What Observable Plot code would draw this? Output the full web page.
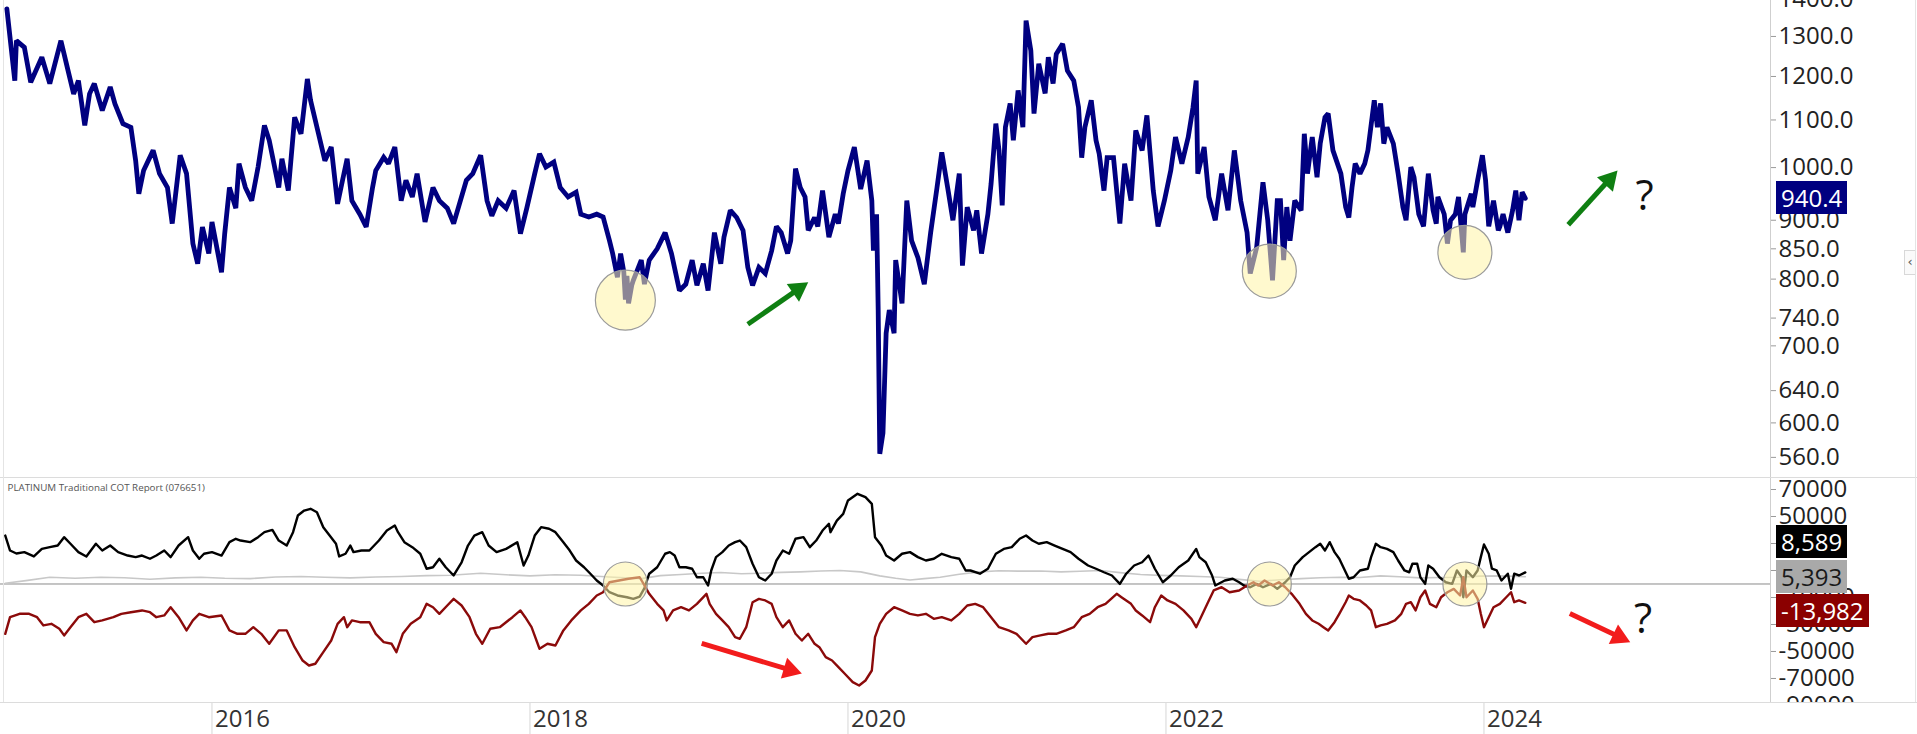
<!DOCTYPE html>
<html>
<head>
<meta charset="utf-8">
<script src="https://cdn.jsdelivr.net/npm/d3@7"></script>
<script src="https://cdn.jsdelivr.net/npm/@observablehq/plot@0.6"></script>
<style>
html, body { margin: 0; padding: 0; background: #fff; overflow: hidden; width: 1917px; height: 734px; }
#chart { position: relative; width: 1917px; height: 734px; font-family: "Open Sans", sans-serif; overflow: hidden; }
.panel { position: absolute; left: 0; }
.panel svg { display: block; }
.panel svg [aria-label="y-axis tick"] { stroke: #9a9a9a; }
.sep { position: absolute; left: 0; width: 1917px; height: 1px; background: #dcdcdc; }
.vline { position: absolute; top: 0; width: 1px; height: 702px; background: #e4e4e4; }
.vlabel { position: absolute; left: 1776px; height: 33px; line-height: 33px; padding: 0 5px; font-size: 24px; font-family: "Open Sans", sans-serif; white-space: nowrap; }
.btn { position: absolute; left: 1904px; top: 250px; width: 10px; height: 23px; border: 1px solid #d8d8d8; border-right: none; font-size: 13px; line-height: 22px; color: #555; text-align: center; font-family: "DejaVu Sans", sans-serif; background: #fafafa; }
</style>
</head>
<body>
<div id="chart"></div>
<script>
// ---------------- DATA ----------------
// Platinum price (USD/oz), [decimal year, price]
const platinumPrice = [
[2014.71,1374],[2014.76,1190],[2014.77,1289],[2014.82,1272],[2014.86,1186],[2014.93,1247],[2014.98,1183],[2015.05,1289],[2015.09,1222],[2015.13,1159],[2015.16,1190],[2015.20,1088],[2015.23,1159],[2015.26,1183],[2015.31,1121],[2015.36,1175],[2015.39,1136],[2015.44,1092],[2015.49,1084],[2015.52,1014],[2015.54,949],[2015.57,994],[2015.63,1035],[2015.67,988],[2015.72,961],[2015.75,894],[2015.80,1025],[2015.84,988],[2015.88,859],[2015.91,825],[2015.94,888],[2015.98,842],[2016.00,897],[2016.06,811],[2016.08,876],[2016.11,961],[2016.15,922],[2016.17,1008],[2016.21,961],[2016.25,936],[2016.29,1001],[2016.33,1088],[2016.36,1056],[2016.42,961],[2016.44,1018],[2016.48,955],[2016.52,1106],[2016.56,1070],[2016.60,1194],[2016.62,1144],[2016.67,1070],[2016.71,1014],[2016.75,1042],[2016.79,930],[2016.83,988],[2016.85,1018],[2016.88,936],[2016.93,911],[2016.97,888],[2017.01,961],[2017.03,994],[2017.08,1021],[2017.11,1008],[2017.15,1042],[2017.19,936],[2017.22,975],[2017.26,943],[2017.29,988],[2017.34,897],[2017.39,961],[2017.43,936],[2017.48,922],[2017.52,894],[2017.60,975],[2017.64,988],[2017.69,1025],[2017.73,936],[2017.76,908],[2017.80,936],[2017.85,922],[2017.90,955],[2017.94,876],[2017.98,922],[2018.03,988],[2018.06,1028],[2018.10,1001],[2018.15,1011],[2018.19,961],[2018.24,943],[2018.29,952],[2018.32,911],[2018.37,906],[2018.42,911],[2018.46,906],[2018.50,864],[2018.52,842],[2018.55,803],[2018.57,842],[2018.59,812],[2018.60,768],[2018.61,805],[2018.62,762],[2018.64,790],[2018.65,798],
[2018.70,831],[2018.72,792],[2018.75,831],[2018.80,850],[2018.85,878],[2018.89,842],[2018.94,782],[2018.98,792],[2019.02,831],[2019.05,790],[2019.09,825],[2019.12,782],[2019.16,878],[2019.20,825],[2019.22,870],[2019.26,918],[2019.30,905],[2019.34,882],[2019.37,819],[2019.40,790],[2019.44,819],[2019.48,809],[2019.52,847],[2019.55,889],[2019.58,878],[2019.62,842],[2019.64,864],[2019.67,998],[2019.70,961],[2019.73,943],[2019.75,882],[2019.79,905],[2019.81,889],[2019.84,955],[2019.88,870],[2019.92,911],[2019.94,894],[2019.97,949],[2020.00,994],[2020.04,1042],[2020.08,958],[2020.12,1014],[2020.15,936],[2020.16,847],[2020.18,911],[2020.19,752],[2020.20,564],[2020.22,588],[2020.24,718],[2020.26,752],[2020.29,718],[2020.30,831],[2020.34,762],[2020.37,936],[2020.40,864],[2020.44,835],[2020.48,792],[2020.52,878],[2020.56,961],[2020.59,1031],[2020.63,955],[2020.66,900],[2020.70,988],[2020.72,822],[2020.75,924],[2020.79,882],[2020.81,918],[2020.84,842],[2020.88,911],[2020.90,968],[2020.93,1092],[2020.95,1035],[2020.97,927],[2020.99,1084],[2021.02,1137],[2021.04,1056],[2021.07,1167],[2021.10,1084],[2021.12,1342],[2021.15,1264],[2021.17,1114],[2021.20,1231],[2021.24,1160],[2021.26,1247],[2021.29,1183],[2021.31,1255],[2021.35,1281],[2021.38,1214],[2021.42,1190],[2021.45,1128],[2021.47,1020],[2021.49,1084],[2021.53,1144],[2021.56,1056],[2021.58,1028],[2021.61,955],[2021.63,1020],[2021.67,1020],[2021.71,894],[2021.74,1008],[2021.78,936],[2021.81,1077],[2021.85,1035],[2021.88,1110],[2021.92,955],[2021.95,889],[2021.99,936],[2022.03,994],[2022.06,1063],[2022.10,1008],[2022.14,1063],[2022.17,1128],[2022.19,1190],[2022.20,988],[2022.24,1042],[2022.27,943],[2022.31,900],[2022.35,988],[2022.39,918],[2022.43,1035],[2022.47,936],[2022.51,878],[2022.53,809],[2022.57,852],[2022.61,971],[2022.64,900],[2022.67,798],[2022.70,936],
[2022.72,936],[2022.74,831],[2022.76,924],[2022.78,864],[2022.81,936],[2022.85,918],[2022.87,1070],[2022.89,988],[2022.92,1063],[2022.95,981],[2022.97,1049],[2023.00,1106],[2023.02,1114],[2023.05,1035],[2023.10,988],[2023.13,924],[2023.15,905],[2023.17,961],[2023.19,1008],[2023.22,988],[2023.25,1008],[2023.27,1035],[2023.31,1144],[2023.33,1084],[2023.35,1137],[2023.37,1049],[2023.39,1084],[2023.43,1049],[2023.46,988],[2023.49,924],[2023.51,900],[2023.54,1001],[2023.56,981],[2023.59,911],[2023.62,889],[2023.65,988],[2023.68,918],[2023.70,894],[2023.71,943],[2023.75,911],[2023.77,859],[2023.79,900],[2023.82,911],[2023.84,943],[2023.87,844],[2023.88,911],[2023.92,949],[2023.93,924],[2023.96,975],[2023.99,1025],[2024.01,975],[2024.03,889],[2024.06,936],[2024.09,882],[2024.10,889],[2024.12,911],[2024.15,878],[2024.18,918],[2024.20,955],[2024.22,900],[2024.24,952],[2024.26,940.4]
];

// COT net positions (contracts), [decimal year, net]
const noncommercialNet = [
[2014.70,35900],[2014.73,24800],[2014.77,22600],[2014.82,23600],[2014.88,20400],[2014.93,26000],[2014.98,27300],[2015.03,28500],[2015.07,34700],[2015.11,29800],[2015.16,23600],[2015.21,20400],[2015.27,29800],[2015.31,24800],[2015.36,28500],[2015.41,23600],[2015.47,21100],[2015.52,19900],[2015.56,21100],[2015.61,18700],[2015.65,21100],[2015.70,24800],[2015.74,19900],[2015.79,28500],[2015.85,34700],[2015.88,24800],[2015.92,18700],[2015.95,22400],[2016.00,23600],[2016.06,21100],[2016.11,31000],[2016.15,33500],[2016.18,32200],[2016.24,31000],[2016.29,34700],[2016.33,38400],[2016.38,40100],[2016.42,32200],[2016.47,28500],[2016.51,38400],[2016.54,50700],[2016.58,54400],[2016.62,55700],[2016.66,53200],[2016.70,42100],[2016.74,35900],[2016.78,29800],[2016.80,20400],[2016.84,22400],[2016.87,28500],[2016.89,23600],[2016.94,24800],[2016.99,24800],[2017.05,32200],[2017.10,39600],[2017.15,43300],[2017.17,38400],[2017.21,31000],[2017.26,27300],[2017.31,22400],[2017.35,11300],[2017.39,12400],[2017.43,18700],[2017.47,12400],[2017.52,6300],[2017.57,16100],[2017.61,28500],[2017.65,35900],[2017.70,38400],[2017.74,28500],[2017.79,23600],[2017.85,26000],[2017.92,31000],[2017.96,13700],[2017.99,21100],[2018.03,35900],[2018.07,42100],[2018.12,40900],[2018.16,38400],[2018.21,31000],[2018.25,24800],[2018.29,17400],[2018.34,12400],[2018.38,7600],[2018.42,2600],[2018.46,-1100],[2018.50,-6100],[2018.55,-8500],[2018.61,-9800],[2018.65,-11000],[2018.69,-9300],[2018.72,-3000],[2018.75,7600],[2018.80,12400],[2018.85,22400],[2018.88,23600],[2018.91,21100],[2018.94,12400],[2018.98,12400],[2019.02,11300],[2019.05,5000],[2019.09,5000],[2019.12,-1100],[2019.14,10000],[2019.17,19900],[2019.21,23600],[2019.25,28500],[2019.29,31000],[2019.32,32200],[2019.36,27300],[2019.40,15000],[2019.44,5000],[2019.48,2600],[2019.52,7600],[2019.55,17400],[2019.59,24800],[2019.63,22400],[2019.67,33500],[2019.72,34700],[2019.76,27300],[2019.80,32200],[2019.84,39600],[2019.88,44600],[2019.89,38400],[2019.93,47000],[2019.97,52000],[2020.00,61900],[2020.06,66800],[2020.11,64300],[2020.15,59400],[2020.17,34700],[2020.21,28500],[2020.24,21100],[2020.29,17400],[2020.34,22400],[2020.39,23600],[2020.44,19900],[2020.49,17400],[2020.54,18700],[2020.59,22400],[2020.65,19900],[2020.70,18700],[2020.74,10000],[2020.77,10000],[2020.83,7600],[2020.88,11300],[2020.93,22400],[2020.98,26000],[2021.03,27300],[2021.08,33500],[2021.12,35900],[2021.16,32200],[2021.20,29800],[2021.25,31000],[2021.30,28500],[2021.35,26000],[2021.40,23600],[2021.45,18700],[2021.51,13700],[2021.56,11300],[2021.61,8700],[2021.66,6300],[2021.71,100],[2021.75,7600],[2021.80,13700],[2021.85,16100],[2021.89,21100],[2021.93,11300],[2021.98,1300],[2022.03,6300],[2022.08,12400],[2022.14,17400],[2022.19,26000],[2022.21,19900],[2022.25,16100],[2022.29,6300],[2022.31,-1100],[2022.37,2600],[2022.42,3900],[2022.46,1300],[2022.49,-1100],[2022.53,-2400],[2022.57,100],[2022.61,-2400],[2022.66,100],[2022.70,-3600],[2022.75,1300],[2022.78,5000],[2022.81,13700],[2022.86,19900],[2022.90,23600],[2022.94,27300],[2022.97,29800],[2023.00,24800],[2023.03,31000],[2023.06,23600],[2023.09,18700],[2023.12,11300],[2023.15,3900],[2023.18,5000],[2023.22,10000],[2023.27,11300],[2023.29,19900],[2023.32,29800],[2023.35,27300],[2023.39,26000],[2023.43,23600],[2023.46,17400],[2023.50,10000],[2023.53,8700],[2023.55,15000],[2023.58,15000],[2023.60,5000],[2023.63,100],[2023.65,13700],[2023.68,11300],[2023.72,5000],[2023.76,1300],[2023.80,100],[2023.83,10000],[2023.86,5000],[2023.87,-9800],[2023.89,10000],[2023.93,5000],[2023.96,10000],[2023.98,19900],[2024.00,29300],[2024.03,22400],[2024.05,11300],[2024.08,10000],[2024.11,2600],[2024.15,7600],[2024.17,-3600],[2024.19,7600],[2024.22,6300],[2024.26,8589]
];

const commercialNet = [
[2014.70,-36900],[2014.73,-24600],[2014.79,-22100],[2014.85,-22100],[2014.90,-24600],[2014.94,-30700],[2014.99,-29500],[2015.04,-33200],[2015.07,-38100],[2015.11,-32000],[2015.16,-24600],[2015.21,-22100],[2015.26,-28300],[2015.31,-27000],[2015.38,-24600],[2015.43,-22100],[2015.49,-20900],[2015.56,-19600],[2015.61,-20900],[2015.65,-24600],[2015.70,-23300],[2015.74,-17200],[2015.79,-24600],[2015.84,-34400],[2015.88,-27000],[2015.92,-22100],[2015.98,-24600],[2016.06,-23300],[2016.11,-34400],[2016.16,-36900],[2016.21,-36900],[2016.26,-32000],[2016.31,-36900],[2016.36,-44300],[2016.42,-34400],[2016.47,-34400],[2016.52,-46800],[2016.57,-56700],[2016.61,-60400],[2016.65,-59100],[2016.70,-50500],[2016.75,-41900],[2016.79,-29500],[2016.83,-24600],[2016.85,-32000],[2016.88,-27000],[2016.93,-28300],[2016.99,-28300],[2017.03,-36900],[2017.08,-43100],[2017.13,-44300],[2017.16,-50500],[2017.20,-36900],[2017.25,-29500],[2017.31,-24600],[2017.35,-14700],[2017.39,-17200],[2017.43,-22100],[2017.48,-15900],[2017.52,-11000],[2017.57,-15900],[2017.62,-24600],[2017.66,-36900],[2017.70,-44300],[2017.75,-33200],[2017.81,-32000],[2017.89,-24600],[2017.94,-19600],[2017.97,-24600],[2018.01,-32000],[2018.06,-48000],[2018.11,-44300],[2018.16,-45600],[2018.21,-34400],[2018.26,-27000],[2018.32,-19600],[2018.37,-14700],[2018.42,-8500],[2018.46,-6100],[2018.50,1300],[2018.56,2600],[2018.62,3900],[2018.69,5000],[2018.72,-1000],[2018.75,-7300],[2018.80,-14700],[2018.84,-19600],[2018.86,-27000],[2018.90,-19600],[2018.95,-17200],[2019.00,-19600],[2019.05,-14700],[2019.11,-7300],[2019.13,-14700],[2019.17,-22100],[2019.21,-27000],[2019.25,-32000],[2019.29,-39400],[2019.32,-40600],[2019.36,-32000],[2019.40,-13500],[2019.44,-11000],[2019.48,-12200],[2019.52,-14700],[2019.55,-24600],[2019.59,-32000],[2019.63,-27000],[2019.67,-36900],[2019.71,-41900],[2019.75,-36900],[2019.79,-44300],[2019.82,-46800],[2019.86,-54200],[2019.90,-56700],[2019.94,-61600],[2019.98,-66500],[2020.03,-72700],[2020.07,-75200],[2020.11,-71500],[2020.15,-64100],[2020.17,-39400],[2020.20,-29500],[2020.24,-22100],[2020.29,-17200],[2020.34,-19600],[2020.39,-22100],[2020.44,-23300],[2020.49,-22100],[2020.54,-25800],[2020.59,-24600],[2020.65,-27000],[2020.70,-22100],[2020.75,-15900],[2020.80,-14700],[2020.85,-17200],[2020.90,-24600],[2020.95,-32000],[2021.01,-34400],[2021.06,-36900],[2021.12,-44300],[2021.16,-39400],[2021.21,-38100],[2021.26,-36900],[2021.31,-36900],[2021.37,-34400],[2021.42,-32000],[2021.47,-24600],[2021.52,-22100],[2021.57,-17200],[2021.62,-14700],[2021.69,-7300],[2021.72,-9800],[2021.78,-14700],[2021.81,-19600],[2021.85,-23300],[2021.90,-28300],[2021.93,-17200],[2021.97,-8500],[2022.01,-12200],[2022.06,-14700],[2022.11,-19600],[2022.16,-25800],[2022.19,-32000],[2022.22,-24600],[2022.26,-14700],[2022.30,-4800],[2022.35,-2400],[2022.40,-6100],[2022.46,-4800],[2022.51,-1100],[2022.55,1300],[2022.58,-1100],[2022.62,2600],[2022.67,-1100],[2022.71,1300],[2022.75,-2400],[2022.79,-7300],[2022.84,-14700],[2022.88,-22100],[2022.92,-27000],[2022.96,-29500],[2022.99,-32000],[2023.02,-34400],[2023.06,-28300],[2023.09,-22100],[2023.13,-13500],[2023.15,-8500],[2023.18,-11000],[2023.22,-12200],[2023.26,-15900],[2023.29,-19600],[2023.32,-32000],[2023.35,-30700],[2023.39,-29500],[2023.44,-27000],[2023.48,-22100],[2023.51,-14700],[2023.54,-13500],[2023.57,-19600],[2023.60,-9800],[2023.63,-4800],[2023.66,-14700],[2023.70,-17200],[2023.73,-9800],[2023.77,-6100],[2023.81,-3600],[2023.85,-8500],[2023.87,5000],[2023.89,-9800],[2023.93,-4800],[2023.96,-11000],[2023.98,-22100],[2024.00,-32000],[2024.03,-24600],[2024.06,-17200],[2024.10,-14700],[2024.14,-9800],[2024.17,-6100],[2024.19,-13500],[2024.22,-12200],[2024.26,-13982]
];

const nonreportableNet = [
[2014.70,500],[2014.83,2500],[2014.98,5000],[2015.14,4200],[2015.30,5000],[2015.45,4600],[2015.61,3500],[2015.77,4500],[2015.93,5000],[2016.08,4300],[2016.24,4000],[2016.40,5200],[2016.56,5500],[2016.71,5000],[2016.87,4500],[2017.03,5200],[2017.19,5500],[2017.35,6200],[2017.50,6500],[2017.69,8000],[2017.85,6800],[2018.00,6000],[2018.16,6800],[2018.32,6500],[2018.50,5200],[2018.70,4000],[2018.82,6200],[2018.95,7000],[2019.08,8000],[2019.20,8500],[2019.33,7600],[2019.45,8000],[2019.58,8600],[2019.70,9000],[2019.83,9600],[2019.95,10000],[2020.08,9000],[2020.20,6000],[2020.30,4200],[2020.39,3000],[2020.48,4000],[2020.58,5000],[2020.70,7200],[2020.83,9000],[2020.95,9800],[2021.08,9500],[2021.21,9600],[2021.34,9000],[2021.46,9400],[2021.59,10000],[2021.71,8400],[2021.84,7000],[2021.96,6400],[2022.09,6000],[2022.21,5600],[2022.34,5000],[2022.46,3400],[2022.59,2000],[2022.72,3200],[2022.85,4000],[2022.97,4600],[2023.10,5000],[2023.22,4800],[2023.35,6000],[2023.47,5400],[2023.60,4500],[2023.72,4800],[2023.85,5000],[2023.97,5800],[2024.10,6000],[2024.26,5393]
];

// Axis ticks
const priceTicks = [1400, 1300, 1200, 1100, 1000, 900, 850, 800, 740, 700, 640, 600, 560];
const cotTicks = [70000, 50000, 30000, 10000, -10000, -30000, -50000, -70000, -90000];
const yearTicks = [2016, 2018, 2020, 2022, 2024];

// Annotations (data coordinates)
const priceCircles = [{x: 2018.60, y: 767}, {x: 2022.65, y: 813}, {x: 2023.88, y: 844}];
const cotCircles = [{x: 2018.60, y: 0}, {x: 2022.65, y: 0}, {x: 2023.88, y: 0}];
const priceArrows = [{x1: 2019.37, y1: 731, x2: 2019.75, y2: 795}, {x1: 2024.53, y1: 892, x2: 2024.84, y2: 994}];
const cotArrows = [{x1: 2019.08, y1: -44000, x2: 2019.71, y2: -66300}, {x1: 2024.54, y1: -21900, x2: 2024.92, y2: -43100}];
const priceQuestion = [{x: 2025.01, y: 944}];
const cotQuestion = [{x: 2025.00, y: -26300}];
const cotTitle = "PLATINUM Traditional COT Report (076651)";

// ---------------- LAYOUT ----------------
const W = 1917;
const AXIS_X = 1770;
const TOP_H = 477, BOT_H = 225, AX_H = 32;
const xDomain = [2014.670, 2025.802];
const priceDomain = [537.9, 1397];
const cotDomain = [-87800, 78900];

const toRows = arr => arr.map(([x, y]) => ({x, y}));
const priceRows = toRows(platinumPrice);
const noncommRows = toRows(noncommercialNet);
const commRows = toRows(commercialNet);
const smallRows = toRows(nonreportableNet);

const xs = d3.scaleLinear(xDomain, [0, AXIS_X]);
const ysTop = d3.scaleLog(priceDomain, [TOP_H, 0]);
const ysBot = d3.scaleLinear(cotDomain, [BOT_H, 0]);

const HEAD_R = 8;
function arrowGeometry(arrows, ys) {
  const tipOff = 2 * Math.sqrt(Math.PI * HEAD_R * HEAD_R / (3 * Math.sqrt(3)));
  return arrows.map(a => {
    const sx = xs(a.x1), sy = ys(a.y1), tx = xs(a.x2), ty = ys(a.y2);
    const L = Math.hypot(tx - sx, ty - sy), ux = (tx - sx) / L, uy = (ty - sy) / L;
    const cx = tx - ux * tipOff, cy = ty - uy * tipOff;
    return {x1: a.x1, y1: a.y1, x2: xs.invert(cx), y2: ys.invert(cy), angle: Math.atan2(ux, -uy) * 180 / Math.PI};
  });
}
const topArrows = arrowGeometry(priceArrows, ysTop);
const botArrows = arrowGeometry(cotArrows, ysBot);

const baseStyle = {fontFamily: "'Open Sans', sans-serif", fontSize: "24px", color: "#222", background: "transparent"};

function arrowMarks(geo, color) {
  return [
    Plot.link(geo, {x1: "x1", y1: "y1", x2: "x2", y2: "y2", stroke: color, strokeWidth: 5}),
    Plot.dot(geo, {x: "x2", y: "y2", symbol: "triangle", r: HEAD_R, fill: color, stroke: "none", rotate: "angle"})
  ];
}

const topPlot = Plot.plot({
  width: W, height: TOP_H,
  marginLeft: 0, marginRight: W - AXIS_X, marginTop: 0, marginBottom: 0,
  x: {domain: xDomain, axis: null},
  y: {type: "log", domain: priceDomain, axis: "right", ticks: priceTicks, tickFormat: d => d.toFixed(1), tickSize: 5, tickPadding: 3, label: null},
  r: {type: "identity"},
  style: baseStyle,
  marks: [
    Plot.line(priceRows, {x: "x", y: "y", stroke: "#000080", strokeWidth: 4.8, strokeLinejoin: "miter", strokeMiterlimit: 2}),
    Plot.dot(priceCircles, {x: "x", y: "y", r: (d, i) => i === 0 ? 30 : 27, fill: "#fff4a6", fillOpacity: 0.55, stroke: "#9a9a9a", strokeWidth: 1.2}),
    ...arrowMarks(topArrows, "#0f7f12"),
    Plot.text(priceQuestion, {x: "x", y: "y", text: () => "?", fontSize: 42, fill: "#111"}),
    Plot.ruleX([xDomain[1]], {stroke: "#cfcfcf"})
  ]
});

const botPlot = Plot.plot({
  width: W, height: BOT_H,
  marginLeft: 0, marginRight: W - AXIS_X, marginTop: 0, marginBottom: 0,
  x: {domain: xDomain, axis: null},
  y: {domain: cotDomain, axis: "right", ticks: cotTicks, tickFormat: d => String(d), tickSize: 5, tickPadding: 3, label: null},
  style: baseStyle,
  marks: [
    Plot.ruleY([0], {stroke: "#8a8a8a", strokeWidth: 1}),
    Plot.line(smallRows, {x: "x", y: "y", stroke: "#c8c8c8", strokeWidth: 1.6}),
    Plot.line(noncommRows, {x: "x", y: "y", stroke: "#000000", strokeWidth: 2.4}),
    Plot.line(commRows, {x: "x", y: "y", stroke: "#8b0a0a", strokeWidth: 2.4}),
    Plot.dot(cotCircles, {x: "x", y: "y", r: 22, fill: "#fff4a6", fillOpacity: 0.55, stroke: "#9a9a9a", strokeWidth: 1.2}),
    ...arrowMarks(botArrows, "#f21c1c"),
    Plot.text(cotQuestion, {x: "x", y: "y", text: () => "?", fontSize: 42, fill: "#111"}),
    Plot.text([cotTitle], {text: d => d, frameAnchor: "top-left", dx: 7, dy: 7, fontSize: 9.8, fill: "#555", textAnchor: "start"}),
    Plot.ruleX([xDomain[1]], {stroke: "#cfcfcf"})
  ]
});

const axisPlot = Plot.plot({
  width: W, height: AX_H,
  marginLeft: 0, marginRight: W - AXIS_X, marginTop: 0, marginBottom: 0,
  x: {domain: xDomain, axis: null},
  style: baseStyle,
  marks: [
    Plot.ruleX(yearTicks, {x: d => d, stroke: "#d6d6d6"}),
    Plot.text(yearTicks, {x: d => d, text: d => String(d), textAnchor: "start", dx: 3, dy: 1, fontSize: 24, fill: "#333", frameAnchor: "middle"})
  ]
});

// ---------------- ASSEMBLE ----------------
const chart = document.getElementById("chart");
function panel(node, top) {
  const d = document.createElement("div");
  d.className = "panel"; d.style.top = top + "px";
  d.appendChild(node); chart.appendChild(d);
}
panel(topPlot, 0);
panel(botPlot, TOP_H);
panel(axisPlot, TOP_H + BOT_H);

function sep(top) { const d = document.createElement("div"); d.className = "sep"; d.style.top = top + "px"; chart.appendChild(d); }
sep(TOP_H); sep(TOP_H + BOT_H);
function vline(left) { const d = document.createElement("div"); d.className = "vline"; d.style.left = left + "px"; chart.appendChild(d); }
vline(3); vline(1915);
const btn = document.createElement("div"); btn.className = "btn"; btn.textContent = "‹"; chart.appendChild(btn);

// Last-value labels
const fmtInt = v => (v < 0 ? "-" : "") + d3.format(",")(Math.abs(v));
function box(text, center, bg, fg) {
  const d = document.createElement("div");
  d.className = "vlabel"; d.textContent = text;
  d.style.top = (center - 16.5) + "px"; d.style.background = bg; d.style.color = fg;
  chart.appendChild(d);
}
const lastPrice = platinumPrice[platinumPrice.length - 1][1];
box(lastPrice.toFixed(1), ysTop(lastPrice), "#000080", "#fff");

const cotLabels = [
  {v: noncommercialNet[noncommercialNet.length - 1][1], bg: "#000", fg: "#fff"},
  {v: nonreportableNet[nonreportableNet.length - 1][1], bg: "#a9a9a9", fg: "#1a1a1a"},
  {v: commercialNet[commercialNet.length - 1][1], bg: "#8b0000", fg: "#fff"}
].map(l => ({...l, y: TOP_H + ysBot(l.v)})).sort((a, b) => a.y - b.y);
const H = 34.5, mid = Math.floor((cotLabels.length - 1) / 2);
for (let i = mid - 1; i >= 0; i--) cotLabels[i].y = Math.min(cotLabels[i].y, cotLabels[i + 1].y - H);
for (let i = mid + 1; i < cotLabels.length; i++) cotLabels[i].y = Math.max(cotLabels[i].y, cotLabels[i - 1].y + H);
cotLabels.forEach(l => box(fmtInt(l.v), l.y, l.bg, l.fg));
</script>
</body>
</html>
